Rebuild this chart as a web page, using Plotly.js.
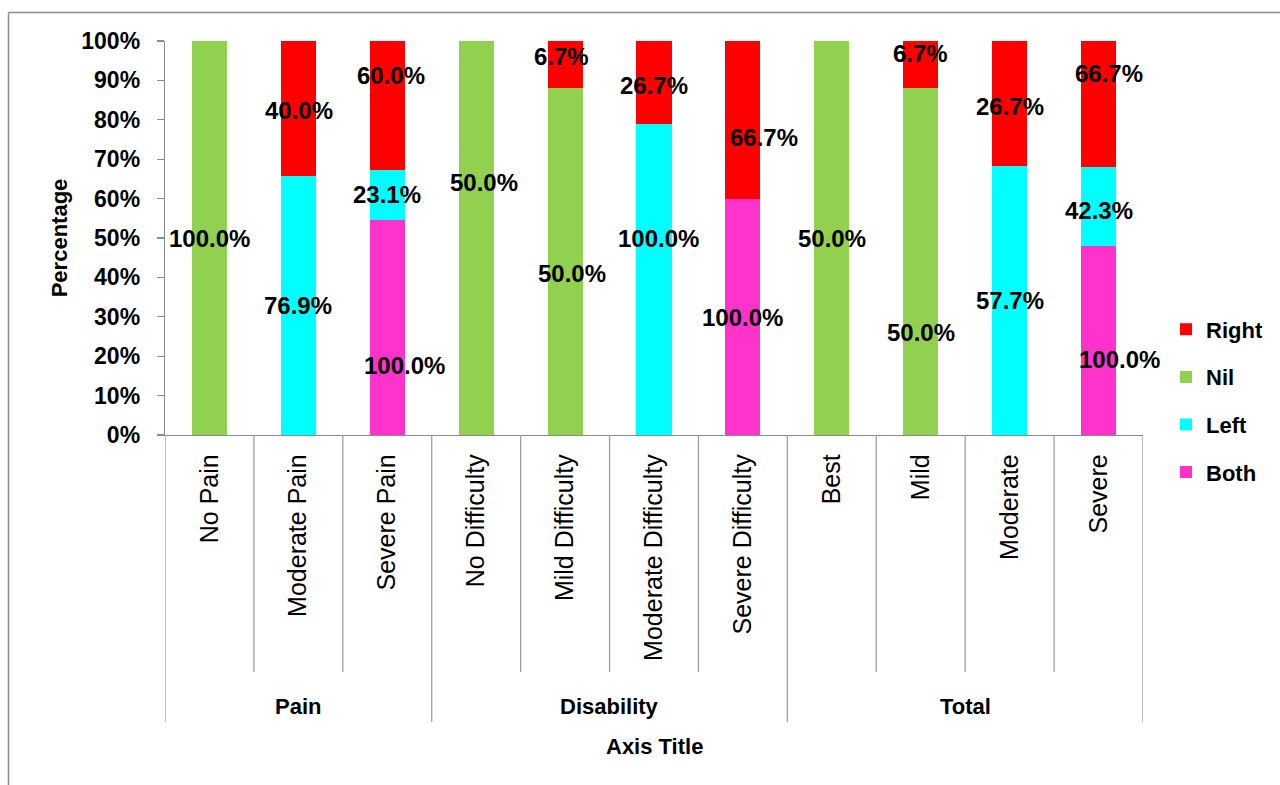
<!DOCTYPE html>
<html>
<head>
<meta charset="utf-8">
<script src="https://cdn.plot.ly/plotly-3.0.1.min.js"></script>
<style>
  html, body { margin: 0; padding: 0; background: #ffffff; }
  #chart { width: 1280px; height: 785px; }
</style>
</head>
<body>
<div id="chart"></div>
<script>
// ---- data ----
const categories = ['No Pain', 'Moderate Pain', 'Severe Pain', 'No Difficulty', 'Mild Difficulty',
  'Moderate Difficulty', 'Severe Difficulty', 'Best', 'Mild', 'Moderate', 'Severe'];
const groups = ['Pain', 'Disability', 'Total'];
const groupSizes = [3, 4, 4];
const both  = [0, 0, 100.0, 0, 0, 0, 100.0, 0, 0, 0, 100.0];
const left  = [0, 76.9, 23.1, 0, 0, 100.0, 0, 0, 0, 57.7, 42.3];
const nil   = [100.0, 0, 0, 50.0, 50.0, 0, 0, 50.0, 50.0, 0, 0];
const right = [0, 40.0, 60.0, 0, 6.7, 26.7, 66.7, 0, 6.7, 26.7, 66.7];
const yTickVals = [0, 10, 20, 30, 40, 50, 60, 70, 80, 90, 100];
const yTickText = ['0%', '10%', '20%', '30%', '40%', '50%', '60%', '70%', '80%', '90%', '100%'];
const xTitle = 'Axis Title';
const yTitle = 'Percentage';

// ---- styles ----
const seriesDefs = [
  { name: 'Both',  values: both,  color: '#FF33CC', rank: 4 },
  { name: 'Left',  values: left,  color: '#00FFFF', rank: 3 },
  { name: 'Nil',   values: nil,   color: '#92D050', rank: 2 },
  { name: 'Right', values: right, color: '#FF0000', rank: 1 }
];
// manual label nudges (pixels: dx right, dy down), as placed in the original
const labelShift = {
  Both:  { 2: [17, 38], 6: [0, 1], 10: [21, 19] },
  Left:  { 5: [4, -41], 10: [0, 4] },
  Nil:   { 3: [8, -56], 4: [7, 12], 8: [0, 71] },
  Right: { 1: [1, 2], 2: [4, -30], 4: [-4, -8], 5: [0, 3], 6: [21, 18], 8: [0, -11], 9: [0, 3], 10: [10, -30] }
};
const FONT = '"Liberation Sans", Arial, sans-serif';
const gray = '#8c8c8c';

const traces = seriesDefs.map(s => ({
  type: 'bar',
  name: s.name,
  legendgroup: s.name,
  legendrank: s.rank,
  x: categories,
  y: s.values,
  marker: { color: s.color, line: { width: 0 } },
  hoverinfo: 'skip'
}));

// label annotations positioned via data coordinates (normalized stack centers)
const annotations = [];
const totals = categories.map((c, j) => seriesDefs.reduce((a, s) => a + s.values[j], 0));
const cum = categories.map(() => 0);
seriesDefs.forEach(s => {
  s.values.forEach((v, j) => {
    if (v > 0) {
      const center = (cum[j] + v / 2) / totals[j] * 100;
      const sh = (labelShift[s.name] && labelShift[s.name][j]) || [0, 0];
      annotations.push({
        xref: 'x', yref: 'y', x: categories[j], y: center,
        text: v.toFixed(1) + '%', showarrow: false,
        xshift: sh[0], yshift: -sh[1],
        font: { family: FONT, size: 24, color: '#000000', weight: 'bold' }
      });
    }
    cum[j] += v;
  });
});

// group labels and dividers
const plotH = 394;
const shapes = [];
let idx = 0;
const groupBounds = [0];
groups.forEach((g, k) => {
  const center = idx + (groupSizes[k] - 1) / 2;
  annotations.push({
    xref: 'x', yref: 'paper', x: center, y: -(706 - 435) / plotH,
    text: g, showarrow: false, yanchor: 'middle',
    font: { family: FONT, size: 22, color: '#000000', weight: 'bold' }
  });
  idx += groupSizes[k];
  groupBounds.push(idx);
});
for (let i = 0; i <= categories.length; i++) {
  const isGroup = groupBounds.indexOf(i) >= 0;
  shapes.push({
    type: 'line', xref: 'x', yref: 'paper',
    x0: i - 0.5, x1: i - 0.5, y0: 0,
    y1: isGroup ? -(722 - 435) / plotH : -(672 - 435) / plotH,
    line: { color: '#a0a0a0', width: 1.3 }
  });
}
// axis title (bottom)
annotations.push({
  xref: 'paper', yref: 'paper', x: 0.5, y: -(746 - 435) / plotH,
  text: xTitle, showarrow: false, yanchor: 'middle',
  font: { family: FONT, size: 22, color: '#000000', weight: 'bold' }
});
// chart-area border (top & left)
shapes.push({ type: 'line', xref: 'paper', yref: 'paper',
  x0: (8.5 - 165) / 978, x1: 1.2, y0: (435 - 12.5) / plotH, y1: (435 - 12.5) / plotH,
  line: { color: gray, width: 1.5 } });
shapes.push({ type: 'line', xref: 'paper', yref: 'paper',
  x0: (8.5 - 165) / 978, x1: (8.5 - 165) / 978, y0: (435 - 12.5) / plotH, y1: -1.2,
  line: { color: gray, width: 1.5 } });

const layout = {
  width: 1280, height: 785,
  margin: { l: 165, r: 137, t: 41, b: 350, pad: 0 },
  paper_bgcolor: '#ffffff', plot_bgcolor: '#ffffff',
  barmode: 'stack', barnorm: 'percent', bargap: 0.606,
  showlegend: true,
  legend: {
    xref: 'container', yref: 'container',
    x: 1166 / 1280, xanchor: 'left', y: (785 - 401) / 785, yanchor: 'middle',
    traceorder: 'grouped', tracegroupgap: 16,
    font: { family: FONT, size: 22, color: '#000000', weight: 'bold' },
    bgcolor: 'rgba(0,0,0,0)', borderwidth: 0
  },
  xaxis: {
    type: 'category', categoryorder: 'array', categoryarray: categories,
    range: [-0.5, categories.length - 0.5],
    tickangle: -90, ticks: '', ticklabelstandoff: 8,
    tickfont: { family: FONT, size: 25, color: '#000000' },
    showline: true, linecolor: gray, linewidth: 1.3,
    showgrid: false, zeroline: false, fixedrange: true
  },
  yaxis: {
    range: [0, 100], tickvals: yTickVals, ticktext: yTickText,
    ticks: 'outside', ticklen: 7, tickcolor: gray, tickwidth: 1.3,
    ticklabelstandoff: 12,
    tickfont: { family: FONT, size: 23, color: '#000000', weight: 'bold' },
    showline: true, linecolor: gray, linewidth: 1.3,
    showgrid: false, zeroline: false, fixedrange: true,
    title: { text: yTitle, standoff: 7,
      font: { family: FONT, size: 22, color: '#000000', weight: 'bold' } }
  },
  shapes: shapes,
  annotations: annotations
};

Plotly.newPlot('chart', traces, layout, { displayModeBar: false, staticPlot: true });
</script>
</body>
</html>
